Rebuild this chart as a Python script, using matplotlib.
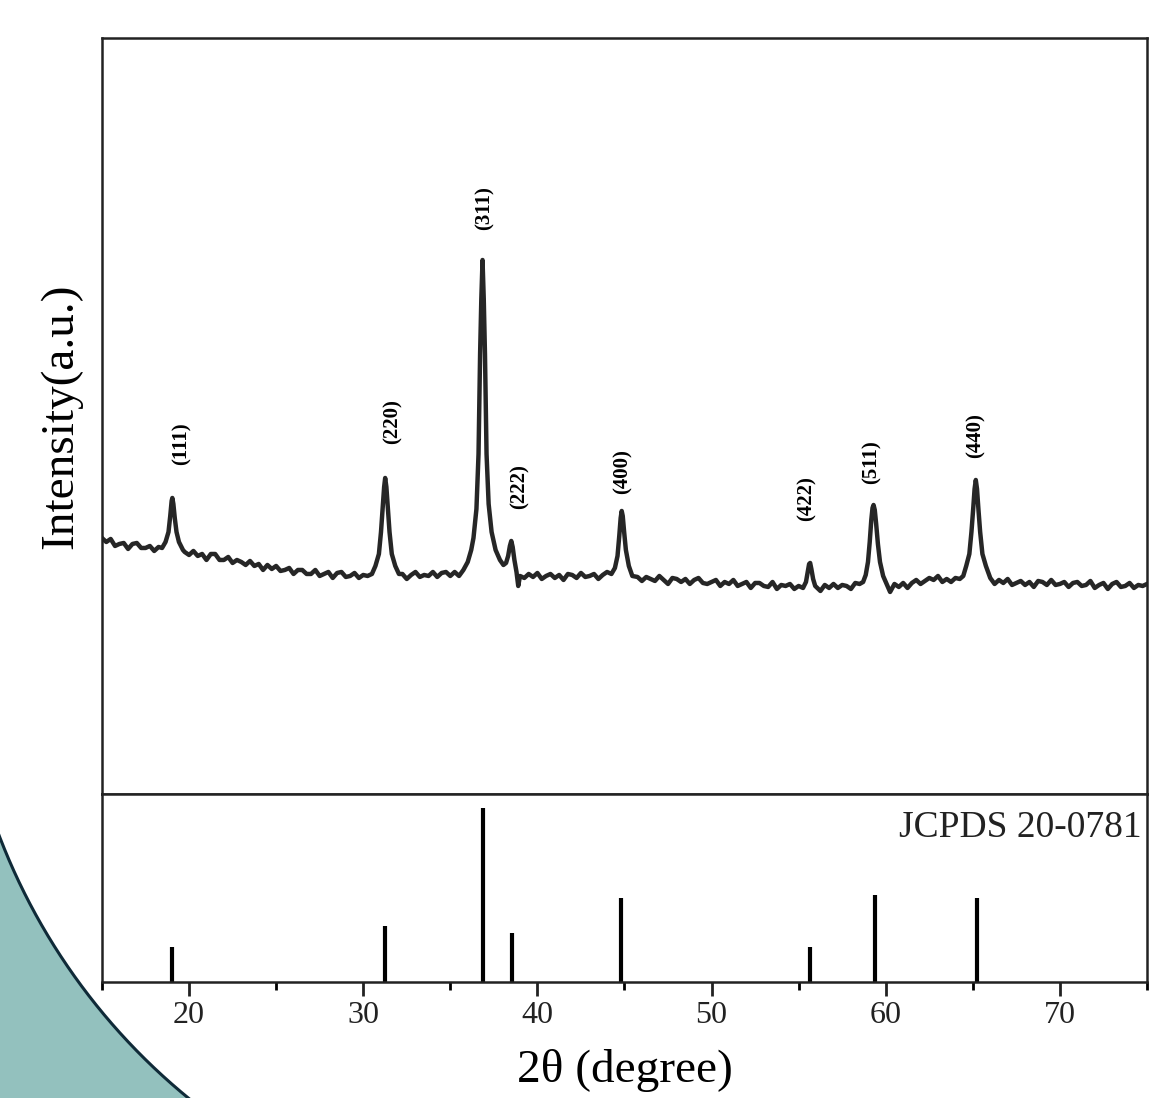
import numpy as np
import matplotlib.pyplot as plt
from matplotlib.patches import Polygon
from matplotlib.lines import Line2D

plt.rcParams['font.family'] = ['Liberation Serif', 'DejaVu Serif']

two_theta = [
    15.0, 15.25, 15.5, 15.75, 16.0, 16.25, 16.5, 16.75, 17.0, 17.25, 17.5, 17.75, 18.0, 18.25,
    18.45, 18.65, 18.82, 18.92, 19.0, 19.04, 19.1, 19.18, 19.28, 19.42, 19.65,
    19.75, 20.0, 20.25, 20.5, 20.75, 21.0, 21.25, 21.5, 21.75, 22.0,
    22.25, 22.5, 22.75, 23.0, 23.25, 23.5, 23.75, 24.0, 24.25, 24.5,
    24.75, 25.0, 25.25, 25.5, 25.75, 26.0, 26.25, 26.5, 26.75, 27.0,
    27.25, 27.5, 27.75, 28.0, 28.25, 28.5, 28.75, 29.0, 29.25, 29.5,
    29.75, 30.0, 30.25,
    30.5, 30.7, 30.9, 31.02, 31.12, 31.2, 31.26, 31.33, 31.41, 31.51, 31.64, 31.84, 32.05,
    32.25, 32.5, 32.75, 33.0, 33.25, 33.5, 33.75, 34.0, 34.25, 34.5,
    34.75, 35.0, 35.25, 35.5, 35.75,
    36.0, 36.2, 36.33, 36.5, 36.62, 36.71, 36.78, 36.85, 36.92, 36.99,
    37.08, 37.2, 37.37, 37.6, 37.85, 38.05, 38.2, 38.32, 38.42, 38.5,
    38.58, 38.68, 38.8, 38.9, 39.0,
    39.25, 39.5, 39.75, 40.0, 40.25, 40.5, 40.75, 41.0, 41.25, 41.5,
    41.75, 42.0, 42.25, 42.5, 42.75, 43.0, 43.25, 43.5, 43.75, 44.0,
    44.25,
    44.45, 44.6, 44.7, 44.78, 44.84, 44.9, 44.98, 45.08, 45.25, 45.45,
    45.75, 46.0, 46.25, 46.5, 46.75, 47.0, 47.25, 47.5, 47.75, 48.0,
    48.25, 48.5, 48.75, 49.0, 49.25, 49.5, 49.75, 50.0, 50.25, 50.5,
    50.75, 51.0, 51.25, 51.5, 51.75, 52.0, 52.25, 52.5, 52.75, 53.0,
    53.25, 53.5, 53.75, 54.0, 54.25, 54.5, 54.75, 55.0, 55.25,
    55.42, 55.52, 55.6, 55.66, 55.73, 55.83, 55.95,
    56.25, 56.5, 56.75, 57.0, 57.25, 57.5, 57.75, 58.0, 58.25, 58.5,
    58.7, 58.85, 58.98, 59.08, 59.17, 59.24, 59.3, 59.37, 59.45, 59.55, 59.67, 59.85, 60.05,
    60.25, 60.5, 60.75, 61.0, 61.25, 61.5, 61.75, 62.0, 62.25, 62.5,
    62.75, 63.0, 63.25, 63.5, 63.75, 64.0, 64.25,
    64.45, 64.62, 64.8, 64.92, 65.02, 65.1, 65.17, 65.24, 65.32, 65.42, 65.55, 65.75, 66.0,
    66.25, 66.5, 66.75, 67.0, 67.25, 67.5, 67.75, 68.0, 68.25, 68.5,
    68.75, 69.0, 69.25, 69.5, 69.75, 70.0, 70.25, 70.5, 70.75, 71.0,
    71.25, 71.5, 71.75, 72.0, 72.25, 72.5, 72.75, 73.0, 73.25, 73.5,
    73.75, 74.0, 74.25, 74.5, 74.75, 75.0,
]
intensity = [
    256, 252, 255, 248, 250, 251, 245, 250, 251, 246, 246, 248, 243, 247,
    246, 252, 262, 278, 293, 296, 290, 276, 262, 252, 244,
    242, 239, 243, 238, 240, 234, 240, 240, 234, 234,
    237, 231, 234, 232, 229, 233, 228, 230, 224, 229,
    225, 228, 223, 224, 226, 220, 224, 224, 220, 220,
    224, 218, 220, 222, 216, 221, 222, 217, 218, 221,
    216, 219, 218,
    220, 228, 240, 262, 287, 307, 316, 307, 287, 262, 240, 228, 220,
    220, 215, 219, 222, 217, 219, 218, 222, 217, 221,
    222, 218, 222, 218, 224,
    232, 244, 256, 285, 340, 440, 495, 534, 495, 440,
    340, 290, 262, 244, 234, 229, 231, 238, 248, 253,
    247, 234, 222, 208, 218,
    216, 220, 217, 221, 215, 218, 220, 216, 219, 214,
    220, 219, 216, 221, 217, 218, 220, 215, 219, 222,
    220,
    226, 238, 258, 276, 283, 278, 262, 244, 228, 218,
    217, 213, 217, 215, 213, 218, 214, 210, 216, 215,
    212, 215, 210, 214, 216, 211, 210, 212, 214, 208,
    212, 210, 214, 208, 210, 212, 206, 211, 211, 208,
    207, 212, 205, 209, 208, 210, 205, 208, 206,
    212, 222, 230, 231, 225, 215, 208,
    203, 209, 206, 210, 206, 209, 208, 205, 211, 210,
    212, 219, 232, 252, 274, 286, 289, 284, 270, 250, 232, 218, 210,
    202, 210, 207, 211, 206, 211, 214, 210, 213, 216,
    214, 218, 212, 215, 212, 216, 215,
    218, 228, 240, 262, 285, 305, 314, 305, 285, 262, 240, 228, 216,
    210, 214, 211, 215, 209, 211, 213, 209, 212, 207,
    213, 212, 209, 214, 209, 210, 212, 207, 211, 212,
    208, 209, 213, 206, 209, 211, 205, 210, 212, 207,
    208, 211, 206, 209, 208, 210,
]

# peak labels
hkl = ['(111)', '(220)', '(311)', '(222)', '(400)', '(422)', '(511)', '(440)']
label_x = [19.55, 31.7, 36.95, 38.97, 44.9, 55.46, 59.2, 65.17]
label_y = [350, 372, 586, 307, 322, 295, 332, 358]

# JCPDS 20-0781 reference lines
ref_pos = [19.0, 31.27, 36.85, 38.55, 44.81, 55.66, 59.36, 65.24]
ref_int = [35, 56, 174, 49, 84, 35, 87, 84]

fig = plt.figure(figsize=(11.6, 10.98), dpi=100)

# decorative teal corner (figure pixel coords, y downward)
W, H = 1160.0, 1098.0
ang = np.radians(np.linspace(122, 166, 200))
cx, cy, r = 586.0, 612.0, 628.0
arc_x = cx + r * np.cos(ang)
arc_y = cy + r * np.sin(ang)
poly_x = np.concatenate([arc_x, [-20, -20]])
poly_y = np.concatenate([arc_y, [arc_y[-1], H + 20]])
fig.add_artist(Polygon(np.column_stack([poly_x / W, 1 - poly_y / H]),
                       closed=True, transform=fig.transFigure,
                       facecolor='#93c1be', edgecolor='none', zorder=0))
fig.add_artist(Line2D(arc_x / W, 1 - arc_y / H, transform=fig.transFigure,
                      color='#0f2a38', lw=2.2, zorder=1))

ax = fig.add_axes([0.0879, 0.2769, 0.9009, 0.6885])
ax2 = fig.add_axes([0.0879, 0.1056, 0.9009, 0.1713])

ax.plot(two_theta, intensity, color='#262626', lw=3.2, solid_joinstyle='round')
ax.set_xlim(15, 75)
ax.set_ylim(0, 756)
ax.set_xticks([])
ax.set_yticks([])
for t, lx, ly in zip(hkl, label_x, label_y):
    ax.text(lx, ly, t, rotation=90, ha='center', va='center',
            fontsize=15, fontweight='bold')
ax.set_ylabel('Intensity(a.u.)', fontsize=34, labelpad=14)

ax2.vlines(ref_pos, 0, ref_int, color='black', lw=3)
ax2.set_xlim(15, 75)
ax2.set_ylim(0, 188)
ax2.set_yticks([])
ax2.set_xticks([20, 30, 40, 50, 60, 70])
ax2.set_xticks([15, 25, 35, 45, 55, 65, 75], minor=True)
ax2.tick_params(axis='x', which='major', direction='out', length=10, width=2,
                labelsize=23, colors='#222222')
ax2.tick_params(axis='x', which='minor', direction='out', length=6, width=2)
ax2.set_xlabel('2θ (degree)', fontsize=34, labelpad=14)
ax2.text(0.995, 154 / 188, 'JCPDS 20-0781', transform=ax2.transAxes,
         ha='right', va='center', fontsize=27, color='#222222')

for a in (ax, ax2):
    for s in a.spines.values():
        s.set_linewidth(1.8)
        s.set_color('#222222')

fig.savefig('out.png', dpi=100)
